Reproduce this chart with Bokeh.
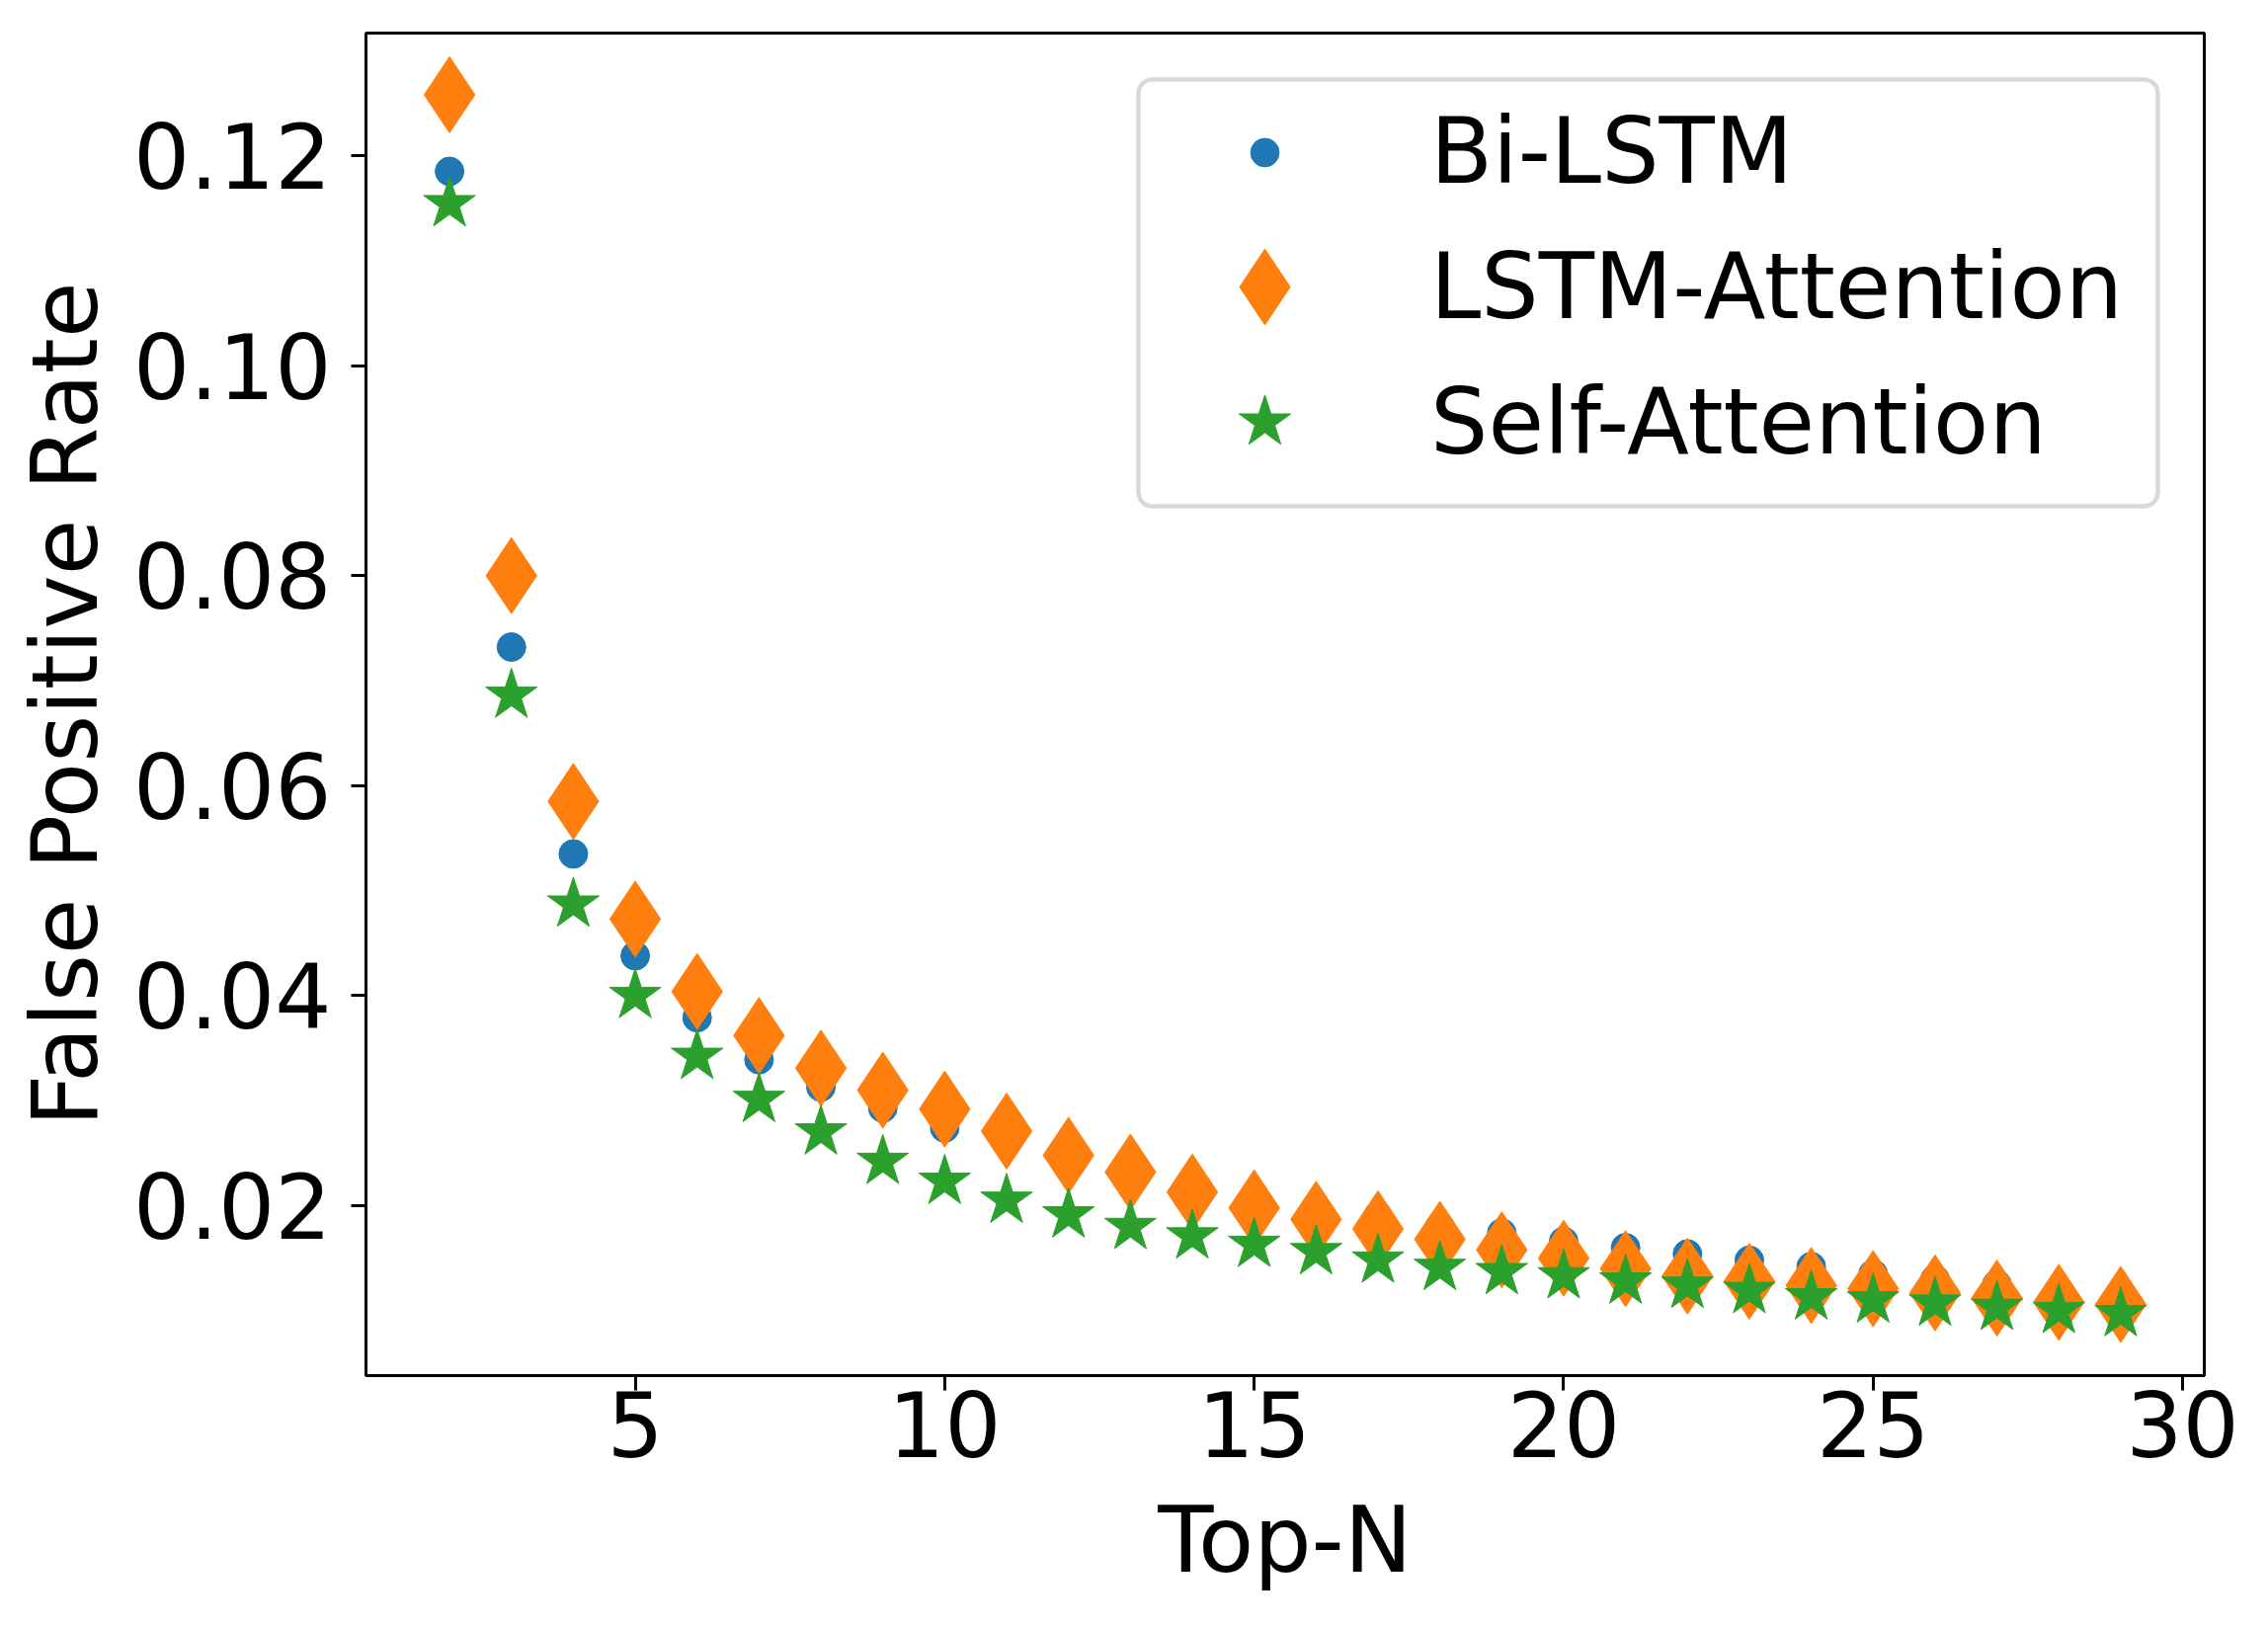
from bokeh.plotting import figure
from bokeh.models import FixedTicker, NumeralTickFormatter, Legend, LegendItem, BoxAnnotation
from bokeh.embed import file_html
from bokeh.resources import INLINE

top_n = list(range(2, 30))
bi_lstm = [0.1185, 0.0732, 0.0535, 0.0438, 0.0379, 0.0339, 0.0313, 0.0293, 0.0274,
           0.0260, 0.0245, 0.0229, 0.0214, 0.0205, 0.0198, 0.0190, 0.0180, 0.0174,
           0.0166, 0.0160, 0.0154, 0.0148, 0.0142, 0.0135, 0.0130, 0.0125, 0.0119, 0.0114]
lstm_attention = [0.1258, 0.0800, 0.0585, 0.0473, 0.0404, 0.0362, 0.0331, 0.0310, 0.0292,
                  0.0271, 0.0248, 0.0232, 0.0213, 0.0198, 0.0187, 0.0178, 0.0168, 0.0158,
                  0.0150, 0.0140, 0.0133, 0.0128, 0.0124, 0.0121, 0.0117, 0.0112, 0.0108, 0.0106]
self_attention = [0.1154, 0.0686, 0.0487, 0.0400, 0.0342, 0.0301, 0.0270, 0.0242, 0.0223,
                  0.0205, 0.0191, 0.0180, 0.0171, 0.0163, 0.0156, 0.0148, 0.0141, 0.0137,
                  0.0133, 0.0128, 0.0124, 0.0119, 0.0113, 0.0110, 0.0107, 0.0103, 0.0100, 0.0097]
series_names = ["Bi-LSTM", "LSTM-Attention", "Self-Attention"]
x_ticks = [5, 10, 15, 20, 25, 30]
y_ticks = [0.02, 0.04, 0.06, 0.08, 0.10, 0.12]

FONT = "DejaVu Sans"
FS_TICK = "90px"
FS_LABEL = "92px"
C_BLUE, C_ORANGE, C_GREEN = "#1f77b4", "#ff7f0e", "#2ca02c"

p = figure(width=2280, height=1632, x_range=(0.65, 30.35), y_range=(0.00382, 0.13167),
           output_backend="svg", toolbar_location=None,
           min_border_left=370, min_border_right=49, min_border_top=33, min_border_bottom=240)
p.grid.visible = False
p.outline_line_color = "black"
p.outline_line_width = 3
p.background_fill_color = "white"
p.border_fill_color = "white"

r1 = p.scatter(top_n, bi_lstm, marker="circle", size=29, fill_color=C_BLUE, line_color=C_BLUE, line_width=1)
r2 = p.scatter(top_n, lstm_attention, marker="diamond", size=77, fill_color=C_ORANGE, line_color=C_ORANGE, line_width=1)
r3 = p.scatter(top_n, self_attention, marker="star", size=55, fill_color=C_GREEN, line_color=C_GREEN, line_width=1)

p.xaxis.ticker = FixedTicker(ticks=x_ticks)
p.yaxis.ticker = FixedTicker(ticks=y_ticks)
p.yaxis.formatter = NumeralTickFormatter(format="0.00")
p.xaxis.axis_label = "Top-N"
p.yaxis.axis_label = "False Positive Rate"
for ax in (p.xaxis, p.yaxis):
    ax.axis_line_width = 3
    ax.axis_line_color = "black"
    ax.major_tick_line_width = 3
    ax.major_tick_line_color = "black"
    ax.major_tick_out = 15
    ax.major_tick_in = 0
    ax.minor_tick_out = 0
    ax.minor_tick_in = 0
    ax.major_label_text_font = FONT
    ax.major_label_text_font_size = FS_TICK
    ax.major_label_text_color = "black"
    ax.axis_label_text_font = FONT
    ax.axis_label_text_font_size = FS_LABEL
    ax.axis_label_text_font_style = "normal"
    ax.axis_label_text_color = "black"
p.yaxis.major_label_standoff = 20
p.yaxis.axis_label_standoff = 12
p.xaxis.major_label_standoff = 0
p.xaxis.axis_label_standoff = 28

box = BoxAnnotation(left=1152, right=2184, top=80, bottom=512,
                    left_units="canvas", right_units="canvas", top_units="canvas", bottom_units="canvas",
                    fill_color="white", fill_alpha=0.8, line_color="#d9d9d9", line_alpha=1.0,
                    line_width=4.5, border_radius=14)
p.add_layout(box)

legend_specs = [(r1, series_names[0], 29, 1236), (r2, series_names[1], 77, 1102), (r3, series_names[2], 55, 965)]
for rend, name, msize, yc in legend_specs:
    g = int(round(msize / 0.4))
    h = max(g, 102)
    leg = Legend(items=[LegendItem(label=name, renderers=[rend])],
                 location=(910 - g / 2, yc - h / 2), orientation="vertical",
                 glyph_width=g, glyph_height=g, label_height=g,
                 label_standoff=int(round(168 - g / 2)), padding=0, margin=0, spacing=0,
                 border_line_alpha=0, background_fill_alpha=0,
                 label_text_font=FONT, label_text_font_size=FS_LABEL, label_text_color="black")
    p.add_layout(leg)

open("out.html", "w").write(file_html(p, INLINE))
